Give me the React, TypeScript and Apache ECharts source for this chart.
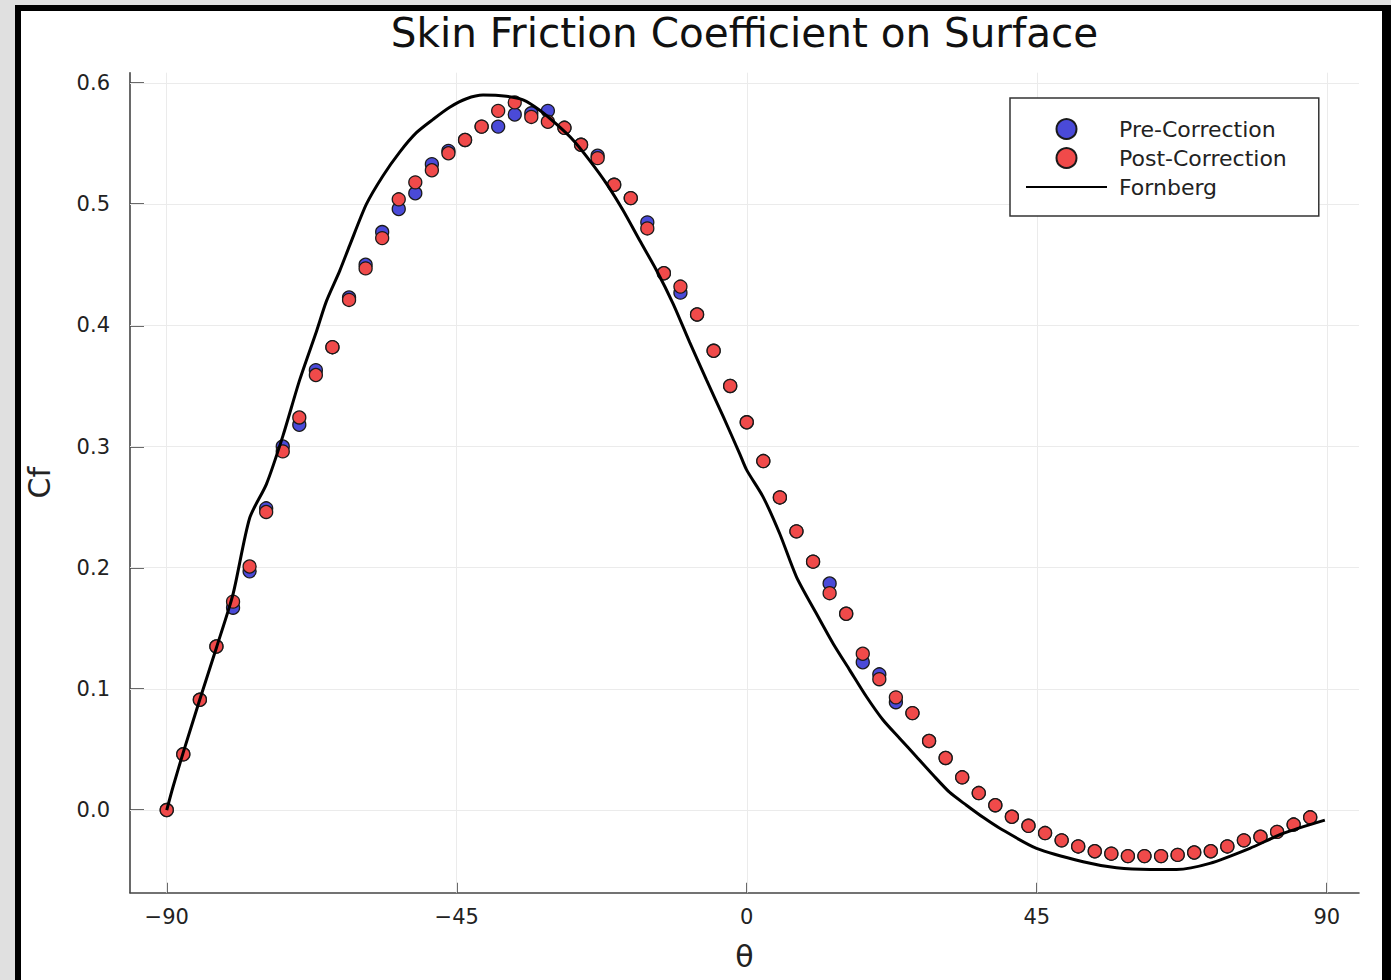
import React, { useEffect, useRef } from "react";
import * as echarts from "echarts";

const thetaDeg = [-90, -87.43, -84.86, -82.29, -79.71, -77.14, -74.57, -72, -69.43, -66.86, -64.29, -61.71, -59.14, -56.57, -54, -51.43, -48.86, -46.29, -43.71, -41.14, -38.57, -36, -33.43, -30.86, -28.29, -25.71, -23.14, -20.57, -18, -15.43, -12.86, -10.29, -7.71, -5.14, -2.57, 0, 2.57, 5.14, 7.71, 10.29, 12.86, 15.43, 18, 20.57, 23.14, 25.71, 28.29, 30.86, 33.43, 36, 38.57, 41.14, 43.71, 46.29, 48.86, 51.43, 54, 56.57, 59.14, 61.71, 64.29, 66.86, 69.43, 72, 74.57, 77.14, 79.71, 82.29, 84.86, 87.43];

const preCorrection = [0.000, 0.046, 0.091, 0.135, 0.167, 0.197, 0.249, 0.300, 0.318, 0.363, 0.382, 0.423, 0.450, 0.477, 0.496, 0.509, 0.533, 0.544, 0.553, 0.564, 0.564, 0.574, 0.575, 0.577, 0.563, 0.549, 0.540, 0.516, 0.505, 0.485, 0.443, 0.427, 0.409, 0.379, 0.350, 0.320, 0.288, 0.258, 0.230, 0.205, 0.187, 0.162, 0.122, 0.112, 0.089, 0.080, 0.057, 0.043, 0.027, 0.014, 0.004, -0.0055, -0.013, -0.019, -0.025, -0.030, -0.034, -0.036, -0.038, -0.038, -0.038, -0.037, -0.035, -0.034, -0.030, -0.025, -0.022, -0.018, -0.012, -0.006];

const postCorrection = [0.000, 0.046, 0.091, 0.135, 0.172, 0.201, 0.246, 0.296, 0.324, 0.359, 0.382, 0.421, 0.447, 0.472, 0.504, 0.518, 0.528, 0.542, 0.553, 0.564, 0.577, 0.584, 0.572, 0.568, 0.563, 0.549, 0.538, 0.516, 0.505, 0.480, 0.443, 0.432, 0.409, 0.379, 0.350, 0.320, 0.288, 0.258, 0.230, 0.205, 0.179, 0.162, 0.129, 0.108, 0.093, 0.080, 0.057, 0.043, 0.027, 0.014, 0.004, -0.0055, -0.013, -0.019, -0.025, -0.030, -0.034, -0.036, -0.038, -0.038, -0.038, -0.037, -0.035, -0.034, -0.030, -0.025, -0.022, -0.018, -0.012, -0.006];

const fornbergTheta = [-90, -89.03, -87.47, -84.88, -82.29, -79.72, -77.13, -74.53, -71.96, -69.37, -66.77, -65.22, -63.16, -61.61, -59.02, -56.44, -53.85, -51.26, -48.68, -46.09, -43.5, -40.92, -37.29, -34.71, -32.12, -29.53, -26.96, -24.36, -21.77, -19.2, -16.6, -14.01, -11.44, -8.85, -6.25, -3.68, -1.09, 0, 2.53, 5.12, 7.71, 10.82, 13.39, 15.98, 18.58, 21.15, 23.74, 26.33, 28.91, 31.5, 34.09, 36.67, 39.26, 44.96, 52.19, 57.37, 62.54, 66.68, 71.85, 78.06, 83.23, 89.7];

const fornbergCf = [0, 0.019, 0.047, 0.091, 0.134, 0.178, 0.241, 0.269, 0.309, 0.355, 0.395, 0.42, 0.445, 0.466, 0.5, 0.5235, 0.543, 0.559, 0.57, 0.58, 0.587, 0.59, 0.589, 0.586, 0.5775, 0.566, 0.553, 0.536, 0.517, 0.495, 0.47, 0.4455, 0.418, 0.386, 0.355, 0.325, 0.294, 0.2805, 0.2585, 0.228, 0.1925, 0.162, 0.1375, 0.1155, 0.0935, 0.0743, 0.0591, 0.044, 0.0289, 0.0145, 0.004, -0.006, -0.015, -0.0316, -0.0426, -0.0476, -0.049, -0.049, -0.044, -0.0316, -0.0193, -0.0083];

const xTicks = [-90, -45, 0, 45, 90];
const yTicks = [0, 0.1, 0.2, 0.3, 0.4, 0.5, 0.6];

const FONT = "DejaVu Sans";
const AXIS_COLOR = "#444";
const TEXT_COLOR = "#222";

export default function App() {
  const ref = useRef<HTMLDivElement>(null);

  useEffect(() => {
    const chart = echarts.init(ref.current!, null, { renderer: "svg" });
    chart.setOption({
      animation: false,
      backgroundColor: "transparent",
      title: {
        text: "Skin Friction Coefficient on Surface",
        left: 744.5,
        top: 12,
        textAlign: "center",
        padding: 0,
        textStyle: { fontFamily: FONT, fontSize: 40.5, fontWeight: "normal", color: "#111" },
      },
      legend: {
        orient: "vertical",
        left: 1010,
        top: 98,
        padding: [20, 32, 18, 15],
        itemWidth: 81,
        itemHeight: 20,
        itemGap: 7,
        borderColor: "#333",
        borderWidth: 1.5,
        backgroundColor: "#fff",
        selectedMode: false,
        textStyle: { fontFamily: FONT, fontSize: 22, color: TEXT_COLOR, padding: [0, 0, 0, 7] },
        data: [
          "Pre-Correction",
          "Post-Correction",
          { name: "Fornberg", itemStyle: { color: "rgba(0,0,0,0)", borderWidth: 0, opacity: 0 }, lineStyle: { width: 2, color: "#000" } },
        ],
      },
      grid: { left: 130, top: 72.7, right: 32, bottom: 87.3, containLabel: false, outerBoundsMode: "none" },
      xAxis: {
        type: "value",
        min: -95.7,
        max: 95,
        name: "θ",
        nameLocation: "middle",
        nameGap: 49,
        nameTextStyle: { fontFamily: FONT, fontSize: 30, color: TEXT_COLOR },
        axisLine: { show: true, onZero: false, lineStyle: { color: AXIS_COLOR, width: 1.6 } },
        axisTick: { show: true, inside: true, length: 10, customValues: xTicks, lineStyle: { color: AXIS_COLOR, width: 1.6 } },
        axisLabel: {
          customValues: xTicks,
          formatter: (v: number) => String(v).replace("-", "\u2212"),
          fontFamily: FONT,
          fontSize: 21,
          color: TEXT_COLOR,
          margin: 14,
        },
        splitLine: { show: false },
      },
      yAxis: {
        type: "value",
        min: -0.0682,
        max: 0.6085,
        name: "Cf",
        nameLocation: "middle",
        nameGap: 76,
        nameRotate: 90,
        nameTextStyle: { fontFamily: FONT, fontSize: 30, color: TEXT_COLOR },
        axisLine: { show: true, onZero: false, lineStyle: { color: AXIS_COLOR, width: 1.6 } },
        axisTick: { show: true, inside: true, length: 14, customValues: yTicks, lineStyle: { color: AXIS_COLOR, width: 1.6 } },
        axisLabel: {
          customValues: yTicks,
          formatter: (v: number) => v.toFixed(1),
          fontFamily: FONT,
          fontSize: 21,
          color: TEXT_COLOR,
          margin: 20,
        },
        splitLine: { show: false },
      },
      series: [
        {
          name: "Pre-Correction",
          type: "scatter",
          data: thetaDeg.map((t, i) => [t, preCorrection[i]]),
          symbol: "circle",
          symbolSize: 13,
          itemStyle: { color: "#4a4ad8", borderColor: "#1a1a1a", borderWidth: 1.3, opacity: 1 },
          z: 2,
          markLine: {
            silent: true,
            z: 1,
            symbol: ["none", "none"],
            label: { show: false },
            emphasis: { disabled: true },
            lineStyle: { color: "#ebebeb", width: 1, type: "solid" },
            data: [...xTicks.map((v) => ({ xAxis: v })), ...yTicks.map((v) => ({ yAxis: v }))],
          },
        },
        {
          name: "Post-Correction",
          type: "scatter",
          data: thetaDeg.map((t, i) => [t, postCorrection[i]]),
          symbol: "circle",
          symbolSize: 13,
          itemStyle: { color: "#f04a4a", borderColor: "#1a1a1a", borderWidth: 1.3, opacity: 1 },
          z: 2,
        },
        {
          name: "Fornberg",
          type: "line",
          data: fornbergTheta.map((t, i) => [t, fornbergCf[i]]),
          symbol: "none",
          smooth: 0.25,
          lineStyle: { color: "#000", width: 3 },
          itemStyle: { color: "#000" },
          z: 3,
        },
      ],
    });
    return () => chart.dispose();
  }, []);

  return (
    <div style={{ position: "fixed", left: 0, top: 0, width: 1391, height: 980, background: "#e0e0e0", overflow: "hidden" }}>
      <div style={{ position: "absolute", left: 15, top: 5, width: 1400, height: 1000, background: "#000" }} />
      <div style={{ position: "absolute", left: 21, top: 11, width: 1361, height: 1000, background: "#fff" }} />
      <div ref={ref} style={{ position: "absolute", left: 0, top: 0, width: 1391, height: 980 }} />
    </div>
  );
}
